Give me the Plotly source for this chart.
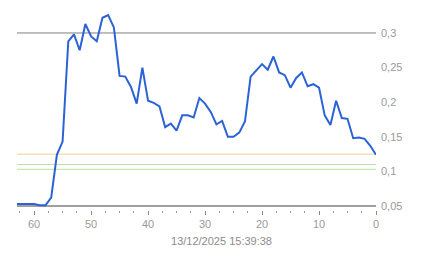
import plotly.graph_objects as go

# x positions (counting down to 0)
x_vals = list(range(63, -1, -1))
# series values for x = 63 .. 0
y_vals = [0.053, 0.053, 0.054, 0.053, 0.051, 0.051, 0.062, 0.124, 0.143, 0.288,
          0.298, 0.275, 0.313, 0.295, 0.288, 0.322, 0.326, 0.308, 0.238, 0.237,
          0.222, 0.198, 0.250, 0.202, 0.199, 0.194, 0.164, 0.169, 0.159, 0.181,
          0.181, 0.178, 0.206, 0.198, 0.186, 0.168, 0.173, 0.150, 0.150, 0.156,
          0.172, 0.237, 0.246, 0.255, 0.247, 0.266, 0.243, 0.239, 0.221, 0.235,
          0.243, 0.223, 0.226, 0.221, 0.181, 0.167, 0.202, 0.177, 0.176, 0.148,
          0.149, 0.147, 0.137, 0.124]

# reference levels
ref_levels = [0.3, 0.125, 0.11, 0.103]
ref_colors = ["#7f7f7f", "#ecd28a", "#b9e0a5", "#b9e0a5"]
base_level = 0.05

x_ticks = [60, 50, 40, 30, 20, 10, 0]
y_ticks = [0.05, 0.1, 0.15, 0.2, 0.25, 0.3]
title_text = "13/12/2025 15:39:38"

fig = go.Figure()

shapes = []
for lvl, col in zip(ref_levels, ref_colors):
    shapes.append(dict(type="line", xref="paper", yref="y", x0=0, x1=1, y0=lvl, y1=lvl,
                       line=dict(color=col, width=1), layer="below"))
shapes.append(dict(type="line", xref="paper", yref="y", x0=0, x1=1, y0=base_level, y1=base_level,
                   line=dict(color="#7f7f7f", width=1.5), layer="below"))

fig.add_trace(go.Scatter(x=x_vals, y=y_vals, mode="lines",
                         line=dict(color="#2b62d6", width=2), hoverinfo="skip",
                         showlegend=False))

fig.update_layout(
    width=443, height=258,
    margin=dict(l=17, r=67, t=8, b=48),
    paper_bgcolor="white", plot_bgcolor="white",
    separators=", ",
    font=dict(family="Liberation Sans, Arial, sans-serif", size=11, color="#9a9a9a"),
    shapes=shapes,
    title=dict(text=title_text, x=0.5, xref="container", xanchor="center",
               y=1 - 241 / 258, yref="container", yanchor="middle",
               font=dict(size=11, color="#8c8c8c")),
    xaxis=dict(range=[63, 0], showgrid=False, zeroline=False, showline=False,
               tickvals=x_ticks, ticks="outside", ticklen=4, tickcolor="#8a8a8a",
               tickwidth=1,
               minor=dict(dtick=2.5, tick0=0, ticks="outside", ticklen=2,
                          tickcolor="#9a9a9a", showgrid=False),
               tickfont=dict(size=11, color="#9a9a9a")),
    yaxis=dict(range=[0.0442, 0.3361], side="right", showgrid=False, zeroline=False,
               showline=False, tickvals=y_ticks, ticks="", ticklabelstandoff=4,
               tickfont=dict(size=11, color="#9a9a9a")),
)

fig.write_html("out.html")
